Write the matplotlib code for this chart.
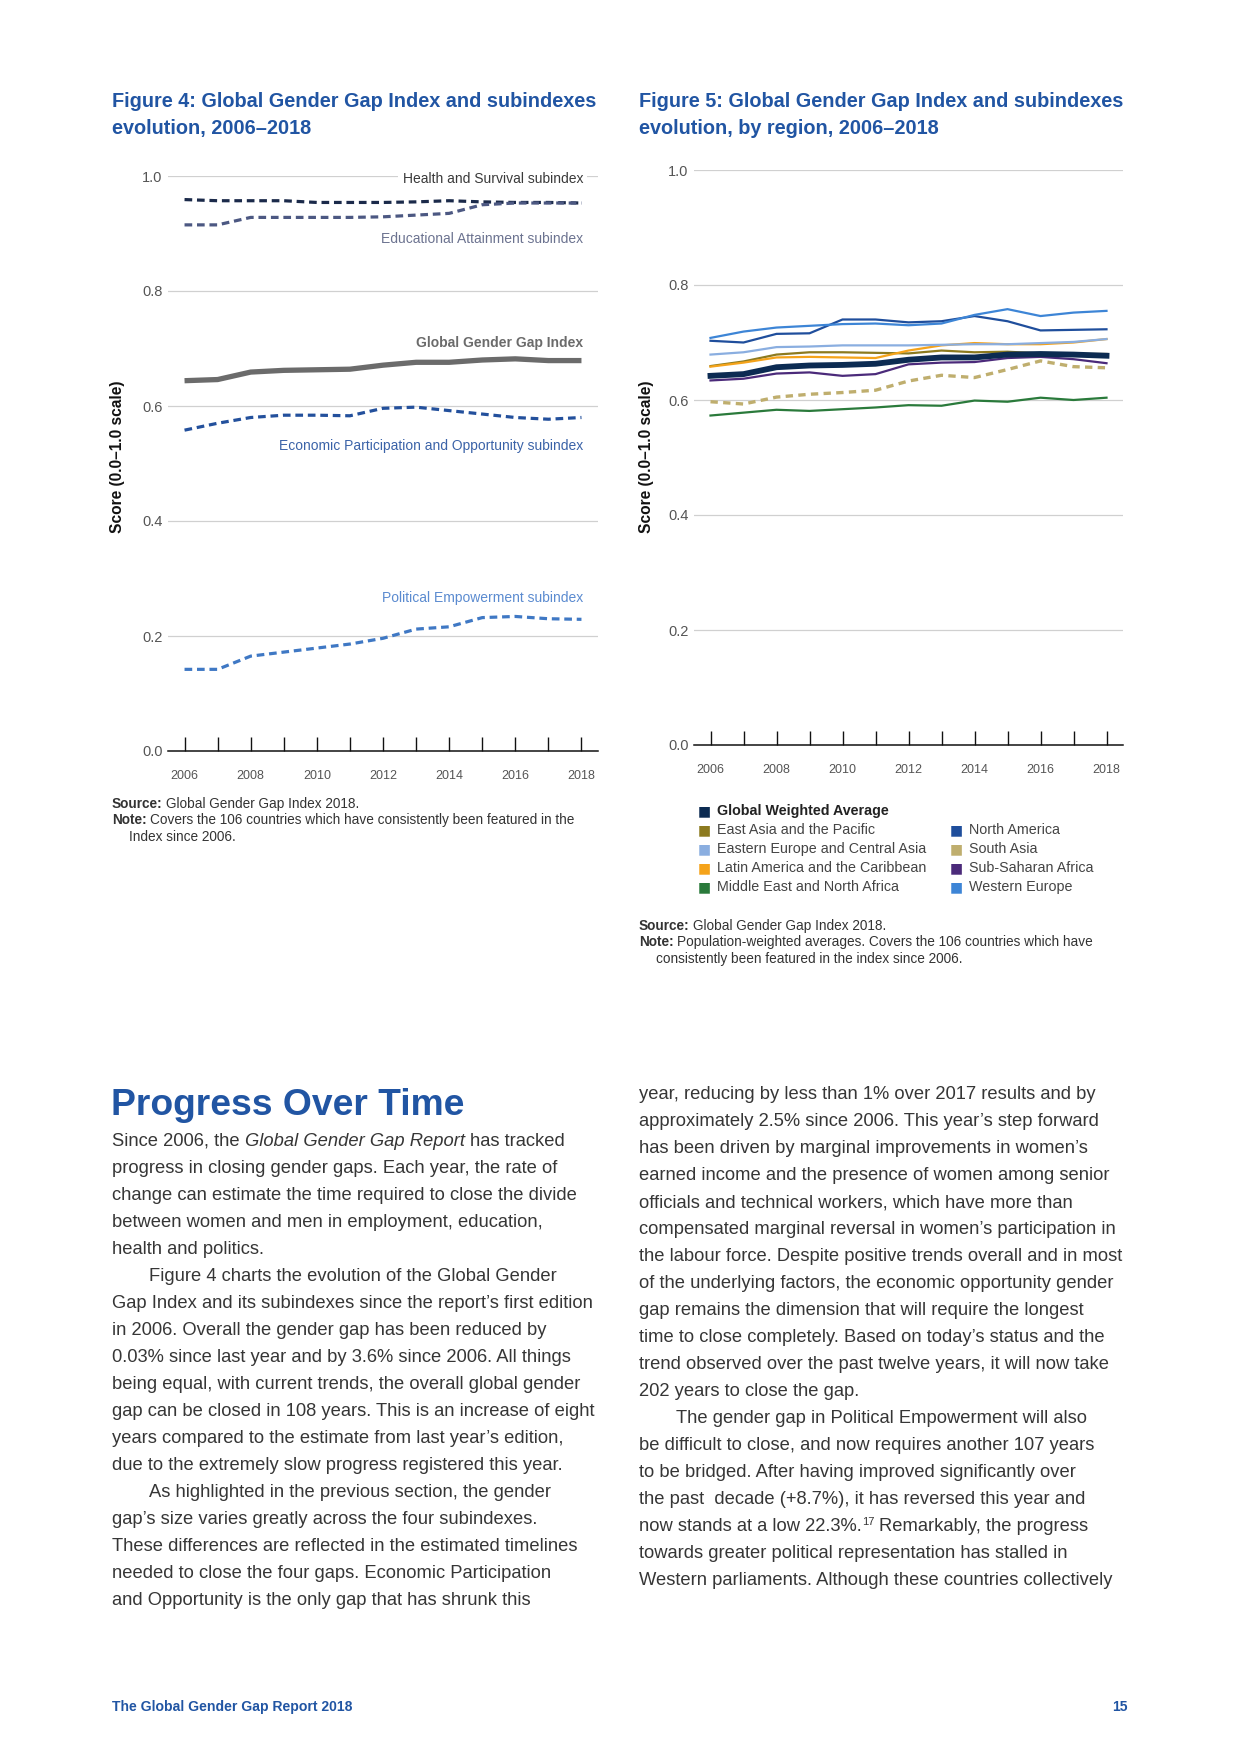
import matplotlib
matplotlib.use("Agg")
import matplotlib.pyplot as plt

plt.rcParams["font.family"] = ["Liberation Sans", "DejaVu Sans"]

W, H = 1240, 1754
BLUE = "#2155a3"
TEXT = "#363636"

years = list(range(2006, 2019))

# figure 4: index and subindexes
health = [0.959, 0.957, 0.957, 0.957, 0.954, 0.954, 0.954, 0.955, 0.957, 0.955, 0.954, 0.954, 0.953]
education = [0.915, 0.915, 0.928, 0.928, 0.928, 0.928, 0.929, 0.932, 0.935, 0.950, 0.953, 0.953, 0.953]
gggi = [0.644, 0.646, 0.659, 0.662, 0.663, 0.664, 0.671, 0.676, 0.676, 0.680, 0.682, 0.679, 0.679]
economic = [0.558, 0.570, 0.580, 0.584, 0.584, 0.583, 0.596, 0.598, 0.592, 0.586, 0.580, 0.577, 0.580]
political = [0.142, 0.142, 0.165, 0.172, 0.179, 0.186, 0.196, 0.212, 0.216, 0.232, 0.234, 0.230, 0.229]

fig4_labels = [
    "Health and Survival subindex",
    "Educational Attainment subindex",
    "Global Gender Gap Index",
    "Economic Participation and Opportunity subindex",
    "Political Empowerment subindex",
]
fig4_label_y = [0.994, 0.890, 0.710, 0.530, 0.266]

# figure 5: by region
regions = [
    "Global Weighted Average",
    "East Asia and the Pacific",
    "Eastern Europe and Central Asia",
    "Latin America and the Caribbean",
    "Middle East and North Africa",
    "North America",
    "South Asia",
    "Sub-Saharan Africa",
    "Western Europe",
]
gwa = [0.642, 0.645, 0.657, 0.660, 0.661, 0.663, 0.670, 0.674, 0.674, 0.679, 0.680, 0.679, 0.677]
east_asia = [0.659, 0.667, 0.679, 0.683, 0.683, 0.682, 0.681, 0.686, 0.683, 0.684, 0.681, 0.680, 0.680]
eastern_europe = [0.679, 0.683, 0.692, 0.693, 0.695, 0.695, 0.695, 0.696, 0.697, 0.697, 0.699, 0.701, 0.706]
latin_america = [0.658, 0.665, 0.674, 0.675, 0.674, 0.673, 0.686, 0.695, 0.699, 0.697, 0.697, 0.700, 0.706]
mena = [0.573, 0.578, 0.583, 0.581, 0.584, 0.587, 0.591, 0.590, 0.599, 0.597, 0.604, 0.600, 0.604]
north_america = [0.703, 0.700, 0.715, 0.716, 0.740, 0.740, 0.735, 0.737, 0.746, 0.737, 0.721, 0.722, 0.723]
south_asia = [0.597, 0.593, 0.605, 0.610, 0.613, 0.617, 0.633, 0.643, 0.639, 0.653, 0.668, 0.658, 0.656]
ssa = [0.634, 0.637, 0.646, 0.648, 0.642, 0.645, 0.662, 0.665, 0.666, 0.673, 0.675, 0.671, 0.664]
western_europe = [0.708, 0.719, 0.726, 0.729, 0.732, 0.733, 0.730, 0.733, 0.748, 0.758, 0.746, 0.752, 0.755]
fig5_series = [gwa, east_asia, eastern_europe, latin_america, mena,
               north_america, south_asia, ssa, western_europe]

yticks = [0.0, 0.2, 0.4, 0.6, 0.8, 1.0]
xlabels = [str(y) if y % 2 == 0 else "" for y in years]

fig = plt.figure(figsize=(W / 100, H / 100), dpi=100)
r = fig.canvas.get_renderer()


def fx(px):
    return px / W


def fy(py):
    return 1 - py / H


def setup_axes(ax):
    ax.set_xlim(2005.5, 2018.5)
    ax.set_ylim(0, 1.0)
    for s in ["top", "right", "left"]:
        ax.spines[s].set_visible(False)
    ax.spines["bottom"].set_color("#111111")
    ax.spines["bottom"].set_linewidth(1.1)
    ax.set_yticks(yticks)
    ax.set_yticklabels(["%.1f" % v for v in yticks])
    ax.tick_params(axis="y", length=0, pad=4, labelsize=10.5, labelcolor="#555555")
    ax.set_xticks(years)
    ax.set_xticklabels(xlabels)
    ax.tick_params(axis="x", direction="in", length=10, width=1.0, color="#111111",
                   pad=14, labelsize=9, labelcolor="#555555")
    for v in yticks[1:]:
        ax.axhline(v, color="#d0d0d0", lw=0.9, zorder=0)


# ---- Figure 4 ----
ax4 = fig.add_axes([fx(168), fy(751), fx(598) - fx(168), (751 - 176) / H])
setup_axes(ax4)
dash = (2.4, 1.5)
ax4.plot(years, health, color="#1b2a4a", lw=2.3, dashes=dash, zorder=3)
ax4.plot(years, education, color="#4c5882", lw=2.3, dashes=dash, zorder=3)
ax4.plot(years, gggi, color="#6b6b6b", lw=3.8, solid_capstyle="butt", zorder=3)
ax4.plot(years, economic, color="#23509c", lw=2.3, dashes=dash, zorder=3)
ax4.plot(years, political, color="#3f78c4", lw=2.3, dashes=dash, zorder=3)

label_colors = ["#3a3a3a", "#6c7390", "#6b6b6b", "#3b63a8", "#5b8bd0"]
for lab, yv, c in zip(fig4_labels, fig4_label_y, label_colors):
    t = ax4.text(2018.05, yv, lab, ha="right", va="center", fontsize=10,
                 color=c, zorder=4,
                 fontweight="bold" if lab.startswith("Global") else "normal")
    if lab.startswith("Health"):
        t.set_bbox(dict(facecolor="white", edgecolor="none", pad=3))

# ---- Figure 5 ----
ax5 = fig.add_axes([fx(694), fy(745), fx(1123) - fx(694), (745 - 170) / H])
setup_axes(ax5)
colors5 = ["#0c2b52", "#8c7a1f", "#8aaee0", "#f5a31a", "#2a7a3b",
           "#1f4e9c", "#bfae6e", "#4b2a7a", "#3d85d6"]
order = [4, 6, 7, 1, 3, 2, 5, 8, 0]
for i in order:
    if i == 0:
        ax5.plot(years, fig5_series[i], color=colors5[i], lw=4.2, zorder=5)
    elif regions[i] == "South Asia":
        ax5.plot(years, fig5_series[i], color=colors5[i], lw=2.4, dashes=(2.2, 1.6), zorder=3)
    else:
        ax5.plot(years, fig5_series[i], color=colors5[i], lw=1.6, zorder=3)

# legend
leg_rows = [811, 830, 849, 868, 887]
leg_pos = [(704, leg_rows[0])] + [(704, y) for y in leg_rows[1:]] + [(956, y) for y in leg_rows[1:]]
for (lx, ly), name, c in zip(leg_pos, regions, colors5):
    fig.text(fx(lx), fy(ly), "\u25a0", fontsize=10, color=c, va="center", ha="center",
             family="DejaVu Sans")
    first = name == regions[0]
    fig.text(fx(lx + 13), fy(ly), name, fontsize=10.3, color="#222222" if first else "#444444",
             va="center", ha="left", fontweight="bold" if first else "normal")

# y labels
for xc in [118, 646]:
    fig.text(fx(xc), fy(457), "Score (0.0\u20131.0 scale)", rotation=90, ha="center",
             va="center", fontsize=11.2, fontweight="bold", color="#111111")

# titles
for tx, l2 in [(112, "evolution, 2006\u20132018"), (639, "evolution, by region, 2006\u20132018")]:
    n = "4" if tx < 500 else "5"
    fig.text(fx(tx), fy(107), "Figure %s: Global Gender Gap Index and subindexes" % n,
             fontsize=14.3, fontweight="bold", color=BLUE, va="baseline")
    fig.text(fx(tx), fy(134), l2, fontsize=14.3, fontweight="bold", color=BLUE, va="baseline")


def advance(txt, size, **kw):
    # width of txt including a trailing space, measured against a reference glyph
    a = fig.text(0, 0, txt + " X", fontsize=size, **kw)
    b = fig.text(0, 0, "X", fontsize=size, **kw)
    w = a.get_window_extent(r).width - b.get_window_extent(r).width
    a.remove()
    b.remove()
    return w


def rich(x, y, parts, size, color):
    for txt, kw, gap in parts:
        kw = dict(kw)
        dy = kw.pop("dy", 0)
        sz = kw.pop("size", size)
        t = fig.text(fx(x), fy(y - dy), txt, fontsize=sz, color=color, va="baseline",
                     ha="left", **kw)
        if gap:
            x += advance(txt, sz, **kw) + (size - sz) * 0.35
        else:
            x += t.get_window_extent(r).width


def note_block(x, y, lines, size=9.8):
    for i, (bold, rest, indent) in enumerate(lines):
        yy = y + i * 16.3
        if bold:
            rich(x, yy, [(bold, {"fontweight": "bold"}, 1), (rest, {}, 0)], size, "#333333")
        else:
            fig.text(fx(x + indent), fy(yy), rest, fontsize=size, color="#333333", va="baseline")


note_block(112, 808, [("Source:", "Global Gender Gap Index 2018.", 0),
                      ("Note:", "Covers the 106 countries which have consistently been featured in the", 0),
                      ("", "Index since 2006.", 17)])
note_block(639, 930, [("Source:", "Global Gender Gap Index 2018.", 0),
                      ("Note:", "Population-weighted averages. Covers the 106 countries which have", 0),
                      ("", "consistently been featured in the index since 2006.", 17)])

# heading
fig.text(fx(111), fy(1115), "Progress Over Time", fontsize=26.8, fontweight="bold",
         color=BLUE, va="baseline")

left_col = [
    None,
    "progress in closing gender gaps. Each year, the rate of",
    "change can estimate the time required to close the divide",
    "between women and men in employment, education,",
    "health and politics.",
    "\tFigure 4 charts the evolution of the Global Gender",
    "Gap Index and its subindexes since the report\u2019s first edition",
    "in 2006. Overall the gender gap has been reduced by",
    "0.03% since last year and by 3.6% since 2006. All things",
    "being equal, with current trends, the overall global gender",
    "gap can be closed in 108 years. This is an increase of eight",
    "years compared to the estimate from last year\u2019s edition,",
    "due to the extremely slow progress registered this year.",
    "\tAs highlighted in the previous section, the gender",
    "gap\u2019s size varies greatly across the four subindexes.",
    "These differences are reflected in the estimated timelines",
    "needed to close the four gaps. Economic Participation",
    "and Opportunity is the only gap that has shrunk this",
]
right_col = [
    "year, reducing by less than 1% over 2017 results and by",
    "approximately 2.5% since 2006. This year\u2019s step forward",
    "has been driven by marginal improvements in women\u2019s",
    "earned income and the presence of women among senior",
    "officials and technical workers, which have more than",
    "compensated marginal reversal in women\u2019s participation in",
    "the labour force. Despite positive trends overall and in most",
    "of the underlying factors, the economic opportunity gender",
    "gap remains the dimension that will require the longest",
    "time to close completely. Based on today\u2019s status and the",
    "trend observed over the past twelve years, it will now take",
    "202 years to close the gap.",
    "\tThe gender gap in Political Empowerment will also",
    "be difficult to close, and now requires another 107 years",
    "to be bridged. After having improved significantly over",
    "the past  decade (+8.7%), it has reversed this year and",
    None,
    "towards greater political representation has stalled in",
    "Western parliaments. Although these countries collectively",
]

BODY = 13.2
LS = 27.02
for i, line in enumerate(left_col):
    y = 1146 + i * LS
    if line is None:
        rich(112, y, [("Since 2006, the", {}, 1),
                      ("Global Gender Gap Report", {"style": "italic"}, 1),
                      ("has tracked", {}, 0)], BODY, TEXT)
        continue
    x = 112
    if line.startswith("\t"):
        x += 37
        line = line[1:]
    fig.text(fx(x), fy(y), line, fontsize=BODY, color=TEXT, va="baseline")

for i, line in enumerate(right_col):
    y = 1099 + i * LS
    if line is None:
        rich(639, y, [("now stands at a low 22.3%.", {}, 0),
                      ("17", {"size": 8, "dy": 6}, 1),
                      ("Remarkably, the progress", {}, 0)], BODY, TEXT)
        continue
    x = 639
    if line.startswith("\t"):
        x += 37
        line = line[1:]
    fig.text(fx(x), fy(y), line, fontsize=BODY, color=TEXT, va="baseline")

# footer
fig.text(fx(112), fy(1711), "The Global Gender Gap Report 2018", fontsize=10.1,
         fontweight="bold", color=BLUE, va="baseline")
fig.text(fx(1128), fy(1711), "15", fontsize=10.1, fontweight="bold", color=BLUE,
         va="baseline", ha="right")

fig.savefig("out.png", dpi=100, facecolor="white")
